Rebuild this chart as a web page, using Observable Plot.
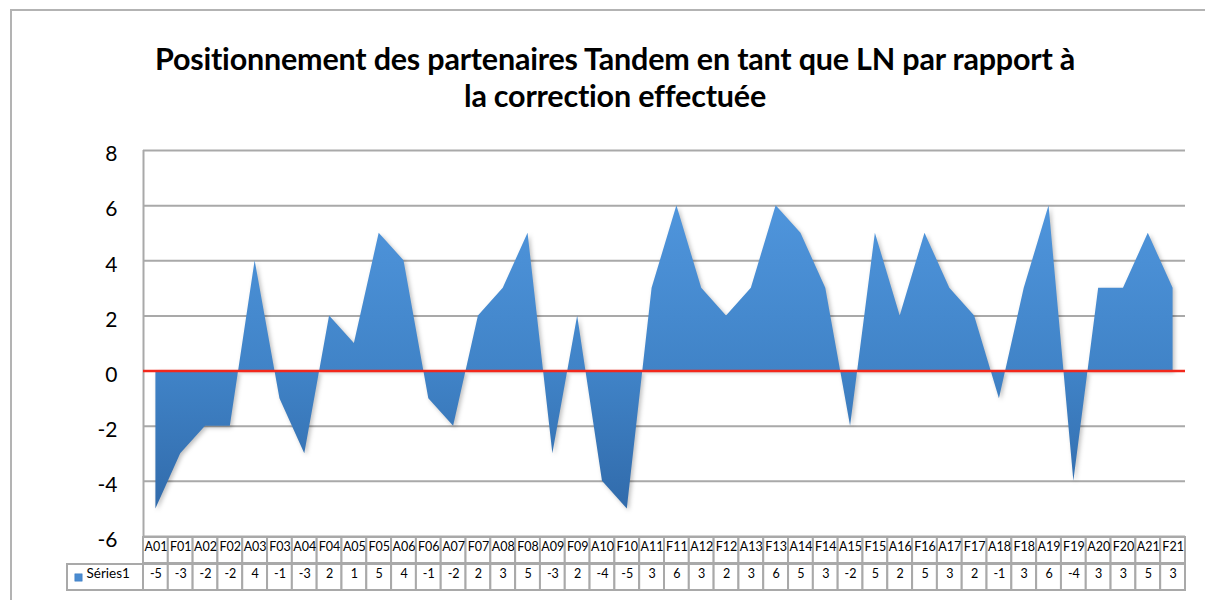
<!DOCTYPE html>
<html>
<head>
<meta charset="utf-8">
<script src="https://cdn.jsdelivr.net/npm/d3@7"></script>
<script src="https://cdn.jsdelivr.net/npm/@observablehq/plot@0.6"></script>
<style>
  html, body { margin: 0; padding: 0; background: #fff; }
  #wrap { position: relative; width: 1205px; height: 600px; overflow: hidden; font-family: Lato, "Open Sans", sans-serif; }
  #frame { position: absolute; left: 10px; top: 9px; width: 1300px; height: 700px; border-top: 2px solid #b3b3b3; border-left: 2px solid #b3b3b3; }
  #title { position: relative; box-sizing: border-box; width: 1205px; height: 120px; padding-top: 40px; padding-left: 25px; text-align: center; font-weight: 700; font-size: 30.5px; line-height: 37px; color: #000; letter-spacing: -0.2px; }
  #chart { position: relative; }
</style>
</head>
<body>
<div id="wrap">
  <div id="frame"></div>
  <div id="title">Positionnement des partenaires Tandem en tant que LN par rapport à<br>la correction effectuée</div>
  <div id="chart"></div>
</div>
<script>
const categories = ["A01","F01","A02","F02","A03","F03","A04","F04","A05","F05","A06","F06","A07","F07","A08","F08","A09","F09","A10","F10","A11","F11","A12","F12","A13","F13","A14","F14","A15","F15","A16","F16","A17","F17","A18","F18","A19","F19","A20","F20","A21","F21"];
const values = [-5,-3,-2,-2,4,-1,-3,2,1,5,4,-1,-2,2,3,5,-3,2,-4,-5,3,6,3,2,3,6,5,3,-2,5,2,5,3,2,-1,3,6,-4,3,3,5,3];
const seriesName = "Séries1";
const yTicks = [-6,-4,-2,0,2,4,6,8];
const zeroLine = [0];

const data = categories.map((c, i) => ({i, c, v: values[i]}));
const grey = "#a9a9a9";

const plot = Plot.plot({
  width: 1205,
  height: 480,
  marginTop: 30,
  marginBottom: 64,
  marginLeft: 143,
  marginRight: 20,
  style: {fontFamily: "Lato, 'Open Sans', sans-serif", background: "transparent", overflow: "visible"},
  x: {domain: [-0.5, categories.length - 0.5], axis: null},
  y: {domain: [yTicks[0], yTicks[yTicks.length - 1]], axis: null},
  marks: [
    Plot.gridY(yTicks.filter(d => d !== 0), {stroke: grey, strokeOpacity: 1, strokeWidth: 2}),
    Plot.ruleX([-0.5], {stroke: grey, strokeWidth: 2}),
    Plot.areaY(data, {x: "i", y: "v", fill: "url(#areaGrad)", curve: "linear"}),
    Plot.ruleY(zeroLine, {stroke: "#f2281c", strokeWidth: 2.5}),
    Plot.axisY(yTicks, {label: null, tickSize: 0, tickPadding: 26, fontSize: 21, dy: 4, fill: "#000", tickFormat: d => String(d)}),
    // data table: header row
    Plot.rect(data, {x1: d => d.i - 0.5, x2: d => d.i + 0.5, insetTop: 387, insetBottom: -27, fill: "white", stroke: grey, strokeWidth: 2}),
    Plot.text(data, {x: "i", text: "c", frameAnchor: "bottom", dy: 14, fontSize: 12.5, fill: "#000"}),
    // data table: values row
    Plot.rect(data, {x1: d => d.i - 0.5, x2: d => d.i + 0.5, insetTop: 414, insetBottom: -54, fill: "white", stroke: grey, strokeWidth: 2}),
    Plot.text(data, {x: "i", text: d => String(d.v), frameAnchor: "bottom", dy: 41, fontSize: 12.5, fill: "#000"}),
    // series legend cell
    Plot.rect([seriesName], {x1: -0.5, x2: -0.5, insetLeft: -76, insetTop: 414, insetBottom: -54, fill: "white", stroke: grey, strokeWidth: 2}),
    Plot.dot([seriesName], {x: -0.5, frameAnchor: "bottom", dx: -65, dy: 41, symbol: "square", r: 4.2, fill: "#4a8bd0", stroke: "#3f7fc2", strokeWidth: 0.5}),
    Plot.text([seriesName], {x: -0.5, frameAnchor: "bottom", dx: -57, dy: 41, text: d => d, textAnchor: "start", fontSize: 13.5, fill: "#000"})
  ]
});

const svg = d3.select(plot);
const defs = svg.insert("defs", ":first-child");
const grad = defs.append("linearGradient").attr("id", "areaGrad").attr("x1", 0).attr("y1", 0).attr("x2", 0).attr("y2", 1);
grad.append("stop").attr("offset", 0).attr("stop-color", "#4f95dc");
grad.append("stop").attr("offset", 0.55).attr("stop-color", "#4083c7");
grad.append("stop").attr("offset", 1).attr("stop-color", "#316bab");
svg.selectAll("path").filter(function() { return this.getAttribute("fill") === "url(#areaGrad)" || (this.parentNode && this.parentNode.getAttribute && this.parentNode.getAttribute("fill") === "url(#areaGrad)"); })
  .style("filter", "drop-shadow(2px 2px 2px rgba(0,0,0,0.25))");

document.getElementById("chart").appendChild(plot);
</script>
</body>
</html>
